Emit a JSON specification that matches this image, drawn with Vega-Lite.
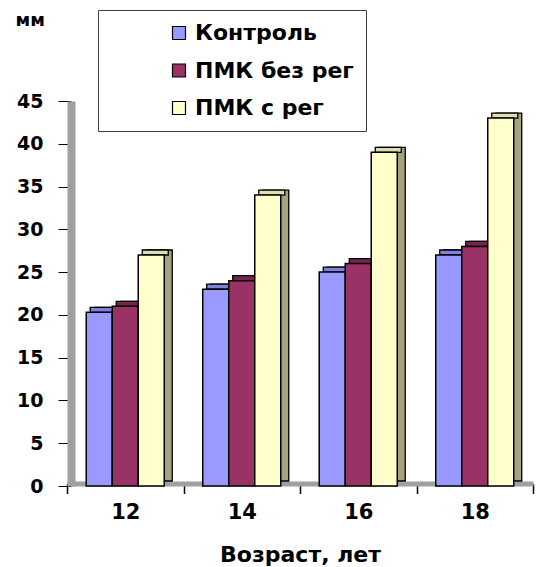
{
  "$schema": "https://vega.github.io/schema/vega-lite/v6.json",
  "width": 466,
  "height": 385,
  "autosize": "none",
  "padding": {"left": 67, "top": 101, "right": 10, "bottom": 81},
  "background": "#ffffff",
  "config": {"view": {"stroke": null}, "font": "DejaVu Sans"},
  "data": {
    "values": [
      {"age": "12", "group": "Контроль", "value": 20.3},
      {"age": "12", "group": "ПМК без рег", "value": 21},
      {"age": "12", "group": "ПМК с рег", "value": 27},
      {"age": "14", "group": "Контроль", "value": 23},
      {"age": "14", "group": "ПМК без рег", "value": 24},
      {"age": "14", "group": "ПМК с рег", "value": 34},
      {"age": "16", "group": "Контроль", "value": 25},
      {"age": "16", "group": "ПМК без рег", "value": 26},
      {"age": "16", "group": "ПМК с рег", "value": 39},
      {"age": "18", "group": "Контроль", "value": 27},
      {"age": "18", "group": "ПМК без рег", "value": 28},
      {"age": "18", "group": "ПМК с рег", "value": 43}
    ]
  },
  "encoding": {
    "x": {
      "field": "age",
      "type": "ordinal",
      "scale": {"paddingInner": 0, "paddingOuter": 0},
      "axis": {
        "title": "Возраст, лет",
        "titleFont": "DejaVu Sans",
        "titleFontSize": 22,
        "titleFontWeight": "bold",
        "titleColor": "#000000",
        "titlePadding": 22,
        "labelAngle": 0,
        "labelFont": "DejaVu Sans",
        "labelFontSize": 21,
        "labelFontWeight": "bold",
        "labelColor": "#000000",
        "labelPadding": 8,
        "tickBand": "extent",
        "tickSize": 10,
        "tickWidth": 1.5,
        "tickColor": "#000000",
        "domainColor": "#a0a0a0",
        "domainWidth": 5,
        "offset": -2.5,
        "grid": false,
        "zindex": 0
      }
    },
    "y": {
      "field": "value",
      "type": "quantitative",
      "scale": {"domain": [0, 45], "nice": false},
      "axis": {
        "title": "мм",
        "titleAngle": 0,
        "titleAlign": "left",
        "titleBaseline": "middle",
        "titleX": -56,
        "titleY": -81,
        "titleFont": "DejaVu Sans",
        "titleFontSize": 18,
        "titleFontWeight": "bold",
        "titleColor": "#000000",
        "values": [0, 5, 10, 15, 20, 25, 30, 35, 40, 45],
        "labelFont": "DejaVu Sans",
        "labelFontSize": 19,
        "labelFontWeight": "bold",
        "labelColor": "#000000",
        "labelPadding": 15,
        "tickSize": 13,
        "tickColor": "#000000",
        "domainColor": "#a0a0a0",
        "domainWidth": 8,
        "offset": -4,
        "grid": false,
        "zindex": 0
      }
    }
  },
  "layer": [
    {
      "mark": {"type": "bar", "yOffset": -5, "stroke": "#000000", "strokeWidth": 1.3},
      "encoding": {
        "xOffset": {
          "field": "group",
          "type": "nominal",
          "scale": {"domain": ["Контроль", "ПМК без рег", "ПМК с рег"], "range": [8, 124.5], "paddingInner": 0, "paddingOuter": 0.74}
        },
        "color": {
          "field": "group",
          "type": "nominal",
          "scale": {"domain": ["Контроль", "ПМК без рег", "ПМК с рег"], "range": ["#6a6ac0", "#5c1a3e", "#a3a382"]},
          "legend": null
        }
      }
    },
    {
      "mark": {"type": "bar", "yOffset": -5, "y2Offset": 0, "stroke": "#000000", "strokeWidth": 1.3},
      "encoding": {
        "xOffset": {
          "field": "group",
          "type": "nominal",
          "scale": {"domain": ["Контроль", "ПМК без рег", "ПМК с рег"], "range": [4, 120.5], "paddingInner": 0, "paddingOuter": 0.74}
        },
        "y2": {"field": "value"},
        "color": {
          "field": "group",
          "type": "nominal",
          "scale": {"domain": ["Контроль", "ПМК без рег", "ПМК с рег"], "range": ["#8080e0", "#7a2250", "#dedeae"]},
          "legend": null
        }
      }
    },
    {
      "mark": {"type": "bar", "stroke": "#000000", "strokeWidth": 1.5},
      "encoding": {
        "xOffset": {
          "field": "group",
          "type": "nominal",
          "scale": {"domain": ["Контроль", "ПМК без рег", "ПМК с рег"], "range": [0, 116.5], "paddingInner": 0, "paddingOuter": 0.74}
        },
        "color": {
          "field": "group",
          "type": "nominal",
          "scale": {"domain": ["Контроль", "ПМК без рег", "ПМК с рег"], "range": ["#9999ff", "#993366", "#ffffcc"]},
          "legend": {
            "title": null,
            "orient": "none",
            "legendX": 31,
            "legendY": -91,
            "direction": "vertical",
            "padding": 12,
            "strokeColor": "#404040",
            "fillColor": "#ffffff",
            "symbolType": "square",
            "symbolSize": 169,
            "symbolStrokeColor": "#000000",
            "symbolStrokeWidth": 1.2,
            "symbolOffset": 58,
            "labelOffset": 5,
            "labelFont": "DejaVu Sans",
            "labelFontSize": 22,
            "labelFontWeight": "bold",
            "labelColor": "#000000",
            "labelLimit": 400,
            "rowPadding": 15.5
          }
        }
      }
    }
  ],
  "resolve": {"scale": {"color": "independent", "xOffset": "independent"}}
}
